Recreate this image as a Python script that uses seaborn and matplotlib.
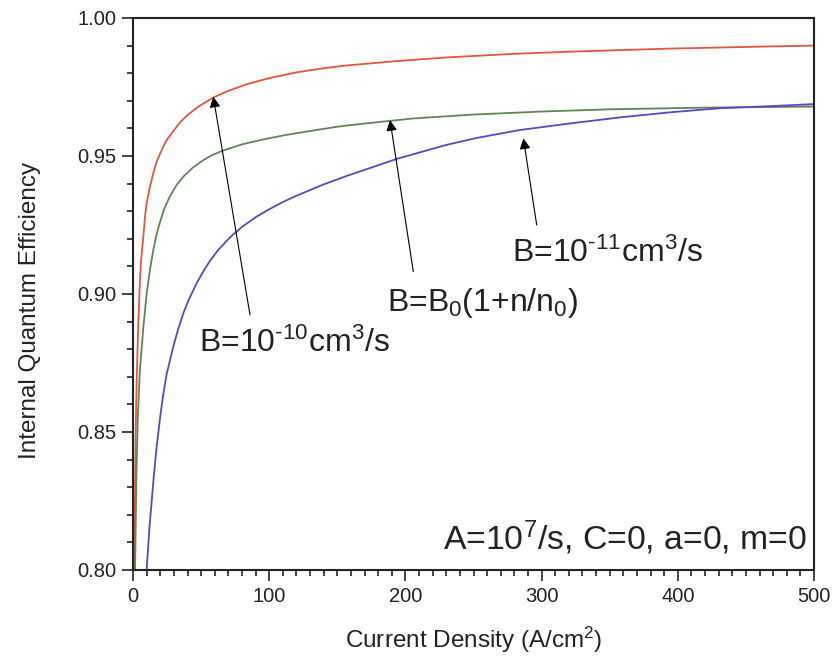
import matplotlib
matplotlib.use("Agg")
import matplotlib.pyplot as plt
import seaborn as sns
import pandas as pd
import numpy as np
from matplotlib.ticker import MultipleLocator, FormatStrFormatter

# ---- data ----
x_red = [1.0, 1.5, 2.0, 2.7, 3.9, 5.0, 5.9, 7.6, 8.8, 10, 12.5, 15, 17.4, 20, 22.3, 25,
         29.6, 34.5, 40, 45, 50, 59, 70, 83.5, 100, 120, 140, 157, 194, 230, 280, 321,
         394, 450, 500]
y_red = [0.800, 0.832, 0.852, 0.869, 0.890, 0.904, 0.912, 0.921, 0.928, 0.933, 0.939,
         0.944, 0.948, 0.951, 0.9535, 0.956, 0.959, 0.9622, 0.9648, 0.9668, 0.9685,
         0.9712, 0.9736, 0.9760, 0.9782, 0.9803, 0.9818, 0.9828, 0.9844, 0.9857, 0.9870,
         0.9878, 0.9889, 0.9895, 0.9900]

x_green = [1.5, 2.5, 3.5, 5.0, 7.6, 10, 12.5, 14.9, 17.5, 19.8, 23, 27.2, 32, 36.9, 44,
           51.6, 58, 66.3, 80, 95.7, 112, 132, 150, 169, 206, 250, 300, 350, 418, 500]
y_green = [0.800, 0.835, 0.855, 0.872, 0.888, 0.900, 0.909, 0.916, 0.922, 0.926, 0.931,
           0.9355, 0.9395, 0.9425, 0.9458, 0.9485, 0.9503, 0.9520, 0.9542, 0.9560,
           0.9576, 0.9592, 0.9606, 0.9617, 0.9636, 0.9650, 0.9661, 0.9669, 0.9675,
           0.9679]

x_purple = [10, 12, 14.9, 17, 19.8, 22, 24.7, 29.6, 33, 36.9, 41, 46.8, 52, 56.5, 62.6,
            71.2, 80, 90, 100, 110, 120, 140, 157, 175, 194, 230, 252, 284, 321, 358, 394,
            431, 470, 500]
y_purple = [0.800, 0.815, 0.832, 0.843, 0.855, 0.863, 0.871, 0.881, 0.887, 0.893, 0.898,
            0.904, 0.9085, 0.912, 0.9160, 0.9205, 0.9243, 0.9278, 0.9307, 0.9333, 0.9356,
            0.9397, 0.9428, 0.9458, 0.9490, 0.9540, 0.9565, 0.9594, 0.9618, 0.9640, 0.9658,
            0.9673, 0.9681, 0.9688]

series_names = ["B=1e-10", "B=B0(1+n/n0)", "B=1e-11"]
series_colors = ["#e5553d", "#62835a", "#5b45c8"]

x_ticks = [0, 100, 200, 300, 400, 500]
y_ticks = [0.80, 0.85, 0.90, 0.95, 1.00]

label_red = r"B=10$^{\text{-10}}$cm$^3$/s"
label_green = r"B=B$_0$(1+n/n$_0$)"
label_purple = r"B=10$^{\text{-11}}$cm$^3$/s"
label_params = r"A=10$^7$/s, C=0, a=0, m=0"

df = pd.concat([
    pd.DataFrame({"J": x_red, "IQE": y_red, "series": series_names[0]}),
    pd.DataFrame({"J": x_green, "IQE": y_green, "series": series_names[1]}),
    pd.DataFrame({"J": x_purple, "IQE": y_purple, "series": series_names[2]}),
])

plt.rcParams.update({
    "font.family": ["Liberation Sans", "DejaVu Sans"],
    "mathtext.fontset": "custom",
    "mathtext.rm": "Liberation Sans",
    "mathtext.it": "Liberation Sans",
    "axes.grid": False,
    "axes.facecolor": "white",
    "figure.facecolor": "white",
    "xtick.direction": "out",
    "ytick.direction": "out",
    "xtick.major.size": 8,
    "ytick.major.size": 8,
    "xtick.minor.size": 4,
    "ytick.minor.size": 4,
    "xtick.major.width": 1.2,
    "ytick.major.width": 1.2,
    "xtick.minor.width": 1.2,
    "ytick.minor.width": 1.2,
    "xtick.color": "#222222",
    "ytick.color": "#222222",
})

fig = plt.figure(figsize=(8.33, 6.63), dpi=100)
ax = fig.add_axes([0.1597, 0.1403, 0.9772 - 0.1597, 0.9729 - 0.1403])

sns.lineplot(data=df, x="J", y="IQE", hue="series",
             palette=dict(zip(series_names, series_colors)),
             linewidth=1.3, legend=False, ax=ax, estimator=None, sort=True)

ax.set_xlim(0, 500)
ax.set_ylim(0.80, 1.00)
ax.set_xticks(x_ticks)
ax.set_yticks(y_ticks)
ax.xaxis.set_minor_locator(MultipleLocator(10))
ax.yaxis.set_minor_locator(MultipleLocator(0.01))
ax.yaxis.set_major_formatter(FormatStrFormatter("%.2f"))
ax.tick_params(axis="both", which="major", labelsize=14.5, labelcolor="#222222", pad=4)
ax.tick_params(axis="both", which="both", top=False, right=False, bottom=True, left=True)
for s in ax.spines.values():
    s.set_linewidth(1.5)
    s.set_color("#222222")

ax.set_xlabel(r"Current Density (A/cm$^2$)", fontsize=17.5, color="#222222", labelpad=14)
ax.set_ylabel("Internal Quantum Efficiency", fontsize=17.5, color="#222222")
ax.yaxis.set_label_coords(-0.135, 0.471)

arrow = dict(arrowstyle="-|>", color="black", lw=0.8, mutation_scale=16,
             shrinkA=0, shrinkB=0)
ax.annotate("", xy=(58.9, 0.9715), xytext=(85.9, 0.8924), arrowprops=arrow)
ax.annotate("", xy=(188.7, 0.9630), xytext=(205.8, 0.9081), arrowprops=arrow)
ax.annotate("", xy=(286.6, 0.9564), xytext=(296.4, 0.9250), arrowprops=arrow)

tkw = dict(fontsize=23, color="#222222", va="baseline")
ax.text(48.5, 0.8791, label_red, ha="left", **tkw)
ax.text(186.5, 0.8938, label_green, ha="left", **tkw)
ax.text(278, 0.9116, label_purple, ha="left", **tkw)
ax.text(495, 0.8075, label_params, ha="right", fontsize=24.3, color="#222222",
        va="baseline")

fig.savefig("out.png", dpi=100, facecolor="white")

# sanity check: are x tick marks drawn below the bottom spine?
img = plt.imread("out.png")
h = img.shape[0]
x0, y0 = ax.transData.transform((100, 0.80))
col = int(round(x0))
row = int(round(h - y0))
strip = img[row + 2: row + 10, col - 2: col + 3, :3].mean(axis=2)
if strip.min() > 0.6:
    raise SystemExit("x ticks NOT visible: strip min %.3f at row %d col %d" % (strip.min(), row, col))
